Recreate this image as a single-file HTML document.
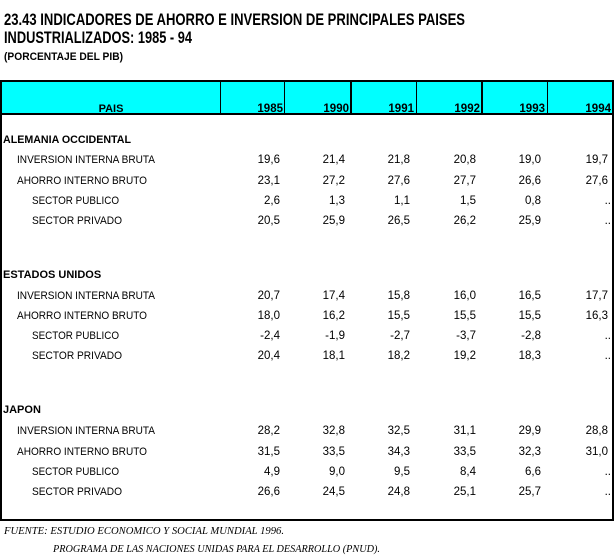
<!DOCTYPE html>
<html><head><meta charset="utf-8"><style>
html,body{margin:0;padding:0;background:#fff;width:614px;height:558px;overflow:hidden}
svg{display:block}
text{font-family:"Liberation Sans",Arial,sans-serif;fill:#000}
.t{font-weight:bold;font-size:17px}
.b{font-weight:bold;font-size:11px}
.r{font-size:11px}
.v{font-size:11.5px;text-anchor:end}
.h{font-weight:bold;font-size:11.5px;text-anchor:end}
.f{font-family:"Liberation Serif",serif;font-style:italic;font-size:11px}
</style></head><body>
<svg width="614" height="558" viewBox="0 0 614 558" xmlns="http://www.w3.org/2000/svg">
<text class="t" x="4" y="25" textLength="461" lengthAdjust="spacingAndGlyphs">23.43  INDICADORES DE AHORRO E INVERSION DE PRINCIPALES PAISES</text>
<text class="t" x="4" y="43" textLength="188" lengthAdjust="spacingAndGlyphs">INDUSTRIALIZADOS: 1985 - 94</text>
<text class="b" x="4" y="60" textLength="119" lengthAdjust="spacingAndGlyphs">(PORCENTAJE DEL PIB)</text>

<rect x="1" y="81" width="612" height="33" fill="#00ffff"/>
<rect x="0" y="80" width="614" height="2" fill="#000"/>
<rect x="0" y="113" width="614" height="2" fill="#000"/>
<rect x="0" y="80" width="2" height="441" fill="#000"/>
<rect x="612" y="80" width="2" height="441" fill="#000"/>
<rect x="0" y="519" width="614" height="2" fill="#000"/>
<rect x="220" y="81" width="1" height="33" fill="#000"/>
<rect x="284" y="81" width="1" height="33" fill="#000"/>
<rect x="350" y="81" width="2" height="33" fill="#000"/>
<rect x="416" y="81" width="1" height="33" fill="#000"/>
<rect x="481" y="81" width="2" height="33" fill="#000"/>
<rect x="547" y="81" width="1" height="33" fill="#000"/>

<text class="b" x="111" y="112" text-anchor="middle" font-size="12">PAIS</text>
<text class="h" x="283" y="112">1985</text>
<text class="h" x="349" y="112">1990</text>
<text class="h" x="414" y="112">1991</text>
<text class="h" x="480" y="112">1992</text>
<text class="h" x="545" y="112">1993</text>
<text class="h" x="611" y="112">1994</text>

<g>
<text class="b" x="3" y="143" textLength="128" lengthAdjust="spacingAndGlyphs">ALEMANIA OCCIDENTAL</text>
<text class="r" x="17" y="163" textLength="138" lengthAdjust="spacingAndGlyphs">INVERSION INTERNA BRUTA</text>
<text class="r" x="17" y="184" textLength="130" lengthAdjust="spacingAndGlyphs">AHORRO INTERNO BRUTO</text>
<text class="r" x="32" y="204" textLength="87" lengthAdjust="spacingAndGlyphs">SECTOR PUBLICO</text>
<text class="r" x="32" y="224" textLength="90" lengthAdjust="spacingAndGlyphs">SECTOR PRIVADO</text>
<text class="v" x="280" y="163">19,6</text><text class="v" x="345" y="163">21,4</text><text class="v" x="410" y="163">21,8</text><text class="v" x="476" y="163">20,8</text><text class="v" x="541" y="163">19,0</text><text class="v" x="608" y="163">19,7</text>
<text class="v" x="280" y="184">23,1</text><text class="v" x="345" y="184">27,2</text><text class="v" x="410" y="184">27,6</text><text class="v" x="476" y="184">27,7</text><text class="v" x="541" y="184">26,6</text><text class="v" x="608" y="184">27,6</text>
<text class="v" x="280" y="204">2,6</text><text class="v" x="345" y="204">1,3</text><text class="v" x="410" y="204">1,1</text><text class="v" x="476" y="204">1,5</text><text class="v" x="541" y="204">0,8</text><text class="v" x="611" y="204">..</text>
<text class="v" x="280" y="224">20,5</text><text class="v" x="345" y="224">25,9</text><text class="v" x="410" y="224">26,5</text><text class="v" x="476" y="224">26,2</text><text class="v" x="541" y="224">25,9</text><text class="v" x="611" y="224">..</text>
</g>
<g>
<text class="b" x="3" y="278">ESTADOS UNIDOS</text>
<text class="r" x="17" y="299" textLength="138" lengthAdjust="spacingAndGlyphs">INVERSION INTERNA BRUTA</text>
<text class="r" x="17" y="319" textLength="130" lengthAdjust="spacingAndGlyphs">AHORRO INTERNO BRUTO</text>
<text class="r" x="32" y="339" textLength="87" lengthAdjust="spacingAndGlyphs">SECTOR PUBLICO</text>
<text class="r" x="32" y="359" textLength="90" lengthAdjust="spacingAndGlyphs">SECTOR PRIVADO</text>
<text class="v" x="280" y="299">20,7</text><text class="v" x="345" y="299">17,4</text><text class="v" x="410" y="299">15,8</text><text class="v" x="476" y="299">16,0</text><text class="v" x="541" y="299">16,5</text><text class="v" x="608" y="299">17,7</text>
<text class="v" x="280" y="319">18,0</text><text class="v" x="345" y="319">16,2</text><text class="v" x="410" y="319">15,5</text><text class="v" x="476" y="319">15,5</text><text class="v" x="541" y="319">15,5</text><text class="v" x="608" y="319">16,3</text>
<text class="v" x="280" y="339">-2,4</text><text class="v" x="345" y="339">-1,9</text><text class="v" x="410" y="339">-2,7</text><text class="v" x="476" y="339">-3,7</text><text class="v" x="541" y="339">-2,8</text><text class="v" x="611" y="339">..</text>
<text class="v" x="280" y="359">20,4</text><text class="v" x="345" y="359">18,1</text><text class="v" x="410" y="359">18,2</text><text class="v" x="476" y="359">19,2</text><text class="v" x="541" y="359">18,3</text><text class="v" x="611" y="359">..</text>
</g>
<g>
<text class="b" x="3" y="413">JAPON</text>
<text class="r" x="17" y="434" textLength="138" lengthAdjust="spacingAndGlyphs">INVERSION INTERNA BRUTA</text>
<text class="r" x="17" y="455" textLength="130" lengthAdjust="spacingAndGlyphs">AHORRO INTERNO BRUTO</text>
<text class="r" x="32" y="475" textLength="87" lengthAdjust="spacingAndGlyphs">SECTOR PUBLICO</text>
<text class="r" x="32" y="495" textLength="90" lengthAdjust="spacingAndGlyphs">SECTOR PRIVADO</text>
<text class="v" x="280" y="434">28,2</text><text class="v" x="345" y="434">32,8</text><text class="v" x="410" y="434">32,5</text><text class="v" x="476" y="434">31,1</text><text class="v" x="541" y="434">29,9</text><text class="v" x="608" y="434">28,8</text>
<text class="v" x="280" y="455">31,5</text><text class="v" x="345" y="455">33,5</text><text class="v" x="410" y="455">34,3</text><text class="v" x="476" y="455">33,5</text><text class="v" x="541" y="455">32,3</text><text class="v" x="608" y="455">31,0</text>
<text class="v" x="280" y="475">4,9</text><text class="v" x="345" y="475">9,0</text><text class="v" x="410" y="475">9,5</text><text class="v" x="476" y="475">8,4</text><text class="v" x="541" y="475">6,6</text><text class="v" x="611" y="475">..</text>
<text class="v" x="280" y="495">26,6</text><text class="v" x="345" y="495">24,5</text><text class="v" x="410" y="495">24,8</text><text class="v" x="476" y="495">25,1</text><text class="v" x="541" y="495">25,7</text><text class="v" x="611" y="495">..</text>
</g>

<text class="f" x="4" y="534" textLength="280" lengthAdjust="spacingAndGlyphs">FUENTE: ESTUDIO ECONOMICO Y SOCIAL MUNDIAL 1996.</text>
<text class="f" x="53" y="552" textLength="327" lengthAdjust="spacingAndGlyphs">PROGRAMA DE LAS NACIONES UNIDAS PARA EL DESARROLLO (PNUD).</text>
</svg>
</body></html>
